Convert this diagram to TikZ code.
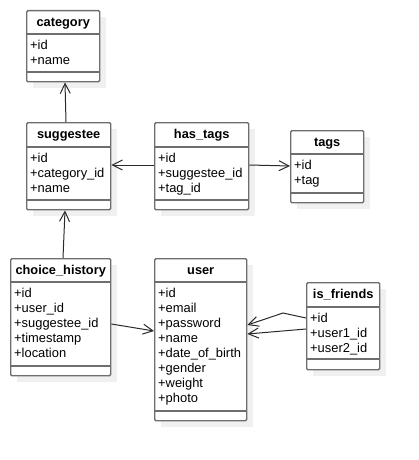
\documentclass[tikz,border=0pt]{standalone}
\usepackage{fontspec}
\setmainfont{Liberation Sans}
\usetikzlibrary{arrows.meta,calc}

\definecolor{boxgray}{HTML}{6E6E6E}
\definecolor{shadowgray}{HTML}{F0F0F0}
\definecolor{linegray}{HTML}{2A2A2A}

\tikzset{
  classbox/.style={draw=boxgray, line width=1.4pt, rounded corners=1.2pt,
    fill=white, inner sep=0pt},
  sepline/.style={draw=boxgray, line width=1.4pt},
  shadowbox/.style={fill=shadowgray},
  titletext/.style={font=\fontsize{12.8}{15}\selectfont\bfseries, inner sep=0pt, anchor=base},
  attrtext/.style={font=\fontsize{12.9}{15}\selectfont, inner sep=0pt, anchor=base west},
  assoc/.style={draw=linegray, line width=1pt, -{Straight Barb[length=10pt,width=10pt]}},
}

% #1 name, #2 left, #3 top, #4 width, #5 height,
% #6 header height, #7 offset of lower separator, #8 title, #9 attribute rows
\newcommand\umlclass[9]{%
  \fill[shadowbox] (#2+7,#3+7) rectangle (#2+#4+7,#3+#5+7);
  \node[classbox, minimum width=#4pt, minimum height=#5pt, anchor=north west] (#1) at (#2,#3) {};
  \draw[sepline] ([yshift=-#6pt]#1.north west) -- ([yshift=-#6pt]#1.north east);
  \draw[sepline] ([yshift=-#7pt]#1.north west) -- ([yshift=-#7pt]#1.north east);
  \node[titletext] (#1-title) at ([yshift=-16.5pt]#1.north) {#8};
  \node[attrtext] (#1-attrs) at ([xshift=4pt,yshift=-#6pt-15.3pt]#1.north west)
    {\begin{tabular}[t]{@{}l@{}}#9\end{tabular}};
}

\begin{document}
\begin{tikzpicture}[x=1pt, y=-1pt]
  \useasboundingbox (0,0) rectangle (419,460);

  \umlclass{category}{26}{10}{73}{71}{24}{62}{category}{+id\\+name}
  \umlclass{suggestee}{26}{122}{84}{87}{25}{78}{suggestee}{+id\\+category\_id\\+name}
  \umlclass{hastags}{154}{122}{94}{87}{25}{78}{has\_tags}{+id\\+suggestee\_id\\+tag\_id}
  \umlclass{tags}{290}{130}{73}{72}{24}{63}{tags}{+id\\+tag}
  \umlclass{choice}{10}{258}{100}{117}{24}{108}{choice\_history}{+id\\+user\_id\\+suggestee\_id\\+timestamp\\+location}
  \umlclass{user}{154}{258}{92}{162}{24}{153}{user}{+id\\+email\\+password\\+name\\+date\_of\_birth\\+gender\\+weight\\+photo}
  \umlclass{friends}{306}{282}{73}{87}{25}{77}{is\_friends}{+id\\+user1\_id\\+user2\_id}

  \coordinate (bend) at (283,313);

  \draw[assoc] ($(suggestee.north west)+(40,0)$) -- ($(category.south west)+(39,0)$);
  \draw[assoc] ($(hastags.north west)+(0,43)$) -- ($(suggestee.north east)+(0,43)$);
  \draw[assoc] ($(hastags.north east)+(0,43)$) -- ($(tags.north west)+(0,36)$);
  \draw[assoc] ($(choice.north west)+(53,0)$) -- ($(suggestee.south west)+(39,0)$);
  \draw[assoc] ($(choice.north east)+(0,66)$) -- ($(user.north west)+(0,73)$);
  \draw[assoc] ($(friends.north west)+(0,36)$) -- (bend) -- ($(user.north east)+(0,67)$);
  \draw[assoc] ($(friends.north west)+(0,47)$) -- ($(user.north east)+(0,76)$);
\end{tikzpicture}
\end{document}
